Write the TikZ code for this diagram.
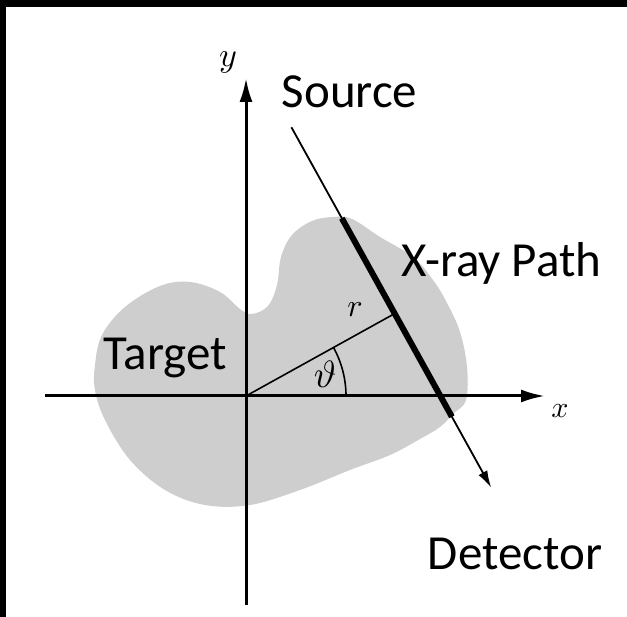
\documentclass[tikz,border=0pt]{standalone}
\usepackage{fontspec}
\setmainfont{Carlito}
\usetikzlibrary{arrows.meta,calc}
\definecolor{blobgray}{RGB}{206,206,206}
\begin{document}
\begin{tikzpicture}[x=1pt,y=1pt,
  lbl/.style={font=\fontsize{49}{58}\selectfont, inner sep=0pt},
  mlbl/.style={font=\normalsize, inner sep=0pt, transform shape},
  axisline/.style={line width=3pt, -{Latex[length=24pt,width=13pt]}},
  rayline/.style={line width=1.8pt, -{Latex[length=17pt,width=10pt]}},
  pathseg/.style={line width=6pt},
  thinline/.style={line width=1.6pt}]
\useasboundingbox (0,0) rectangle (627,617);
\fill[white] (0,0) rectangle (627,617);
\fill[black] (0,0) rectangle (6,617);
\fill[black] (0,610) rectangle (627,617);
% target blob
\fill[blobgray] plot[smooth cycle, tension=0.6] coordinates {
 (95,252) (102,282) (125,310) (160,331) (190,335) (220,325) (240,308)
 (252,303) (268,311) (277,332) (281,360) (292,382) (312,396) (333,400)
 (352,398) (380,380) (413,360) (433,337) (447,314) (460,285) (467,250)
 (466,217) (453,203) (440,190) (420,178) (390,162) (350,147) (300,127)
 (250,112) (205,112) (165,127) (130,157) (105,197) (95,227)};
% axes
\coordinate (O) at (246,221);
\coordinate (xs) at (45,221);
\coordinate (xe) at (545,221);
\coordinate (ys) at (246,12);
\coordinate (ye) at (246,539);
\draw[axisline] (xs) -- (xe);
\draw[axisline] (ys) -- (ye);
\node[mlbl, scale=3.0] (xl) at (560,206) {$x$};
\node[mlbl, scale=3.4] (yl) at (228,555) {$y$};
% ray
\coordinate (F) at ($(O)+(29:170)$);
\coordinate (S) at ($(F)+(119:213)$);
\coordinate (A) at ($(F)+(119:109)$);
\coordinate (B) at ($(F)+(-61:118)$);
\coordinate (D) at ($(F)+(-61:199)$);
\draw[rayline] (S) -- (D);
\draw[pathseg] (A) -- (B);
\draw[thinline] (O) -- (F);
\draw[thinline] ($(O)+(100,0)$) arc[start angle=0, end angle=29, radius=100];
\node[mlbl, scale=3.2] (rl) at (355,307) {$r$};
\node[mlbl, scale=3.8] (tl) at (325,243) {$\vartheta$};
% labels
\node[lbl, anchor=base] (src) at (349.5,509) {Source};
\node[lbl, anchor=base] (xrp) at (501.5,340) {X-ray Path};
\node[lbl, anchor=base] (tgt) at (165.5,247) {Target};
\node[lbl, anchor=base] (det) at (515,47) {Detector};
\end{tikzpicture}
\end{document}
